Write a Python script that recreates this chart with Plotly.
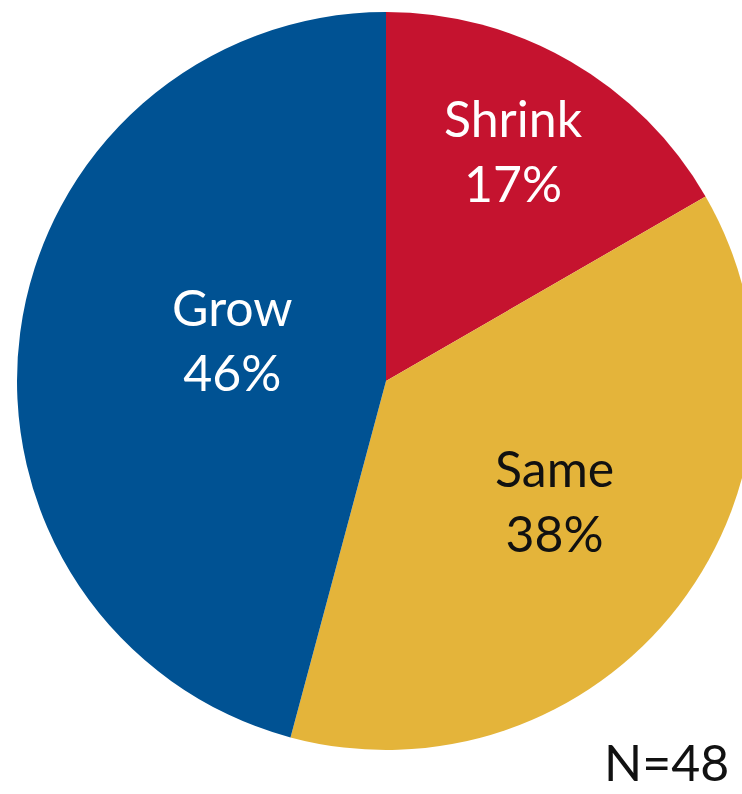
import math
import plotly.graph_objects as go

labels = ["Shrink", "Same", "Grow"]
counts = [8, 18, 22]
colors = ["#C5132F", "#E4B43A", "#005293"]
text_colors = ["#FFFFFF", "#111111", "#FFFFFF"]
n_text = "N=48"

# label placement (radius fraction, angular nudge in degrees)
label_r = [0.715, 0.56, 0.43]
label_nudge = [-1, -2, 7.5]

W, H = 755, 794
L, T, S = 17, 12, 738  # margin left, top, plot square size

fig = go.Figure(go.Pie(
    labels=labels,
    values=counts,
    sort=False,
    direction="clockwise",
    rotation=0,
    marker=dict(colors=colors, line=dict(width=0)),
    textinfo="none",
    hoverinfo="label+percent",
    showlegend=False,
))

total = sum(counts)
cum = 0
for lab, c, col, rf, nd in zip(labels, counts, text_colors, label_r, label_nudge):
    mid = (cum + c / 2) / total * 360 + nd
    cum += c
    dx = rf * 0.5 * math.sin(math.radians(mid))
    dy = rf * 0.5 * math.cos(math.radians(mid))
    fig.add_annotation(
        text=f"{lab}<br>{round(100 * c / total)}%",
        xref="paper", yref="paper",
        x=0.5 + dx, y=0.5 + dy,
        xanchor="center", yanchor="middle",
        showarrow=False,
        font=dict(family="Lato", size=50, color=col),
    )

fig.add_annotation(
    text=n_text, xref="paper", yref="paper",
    x=(731 - L) / S, xanchor="right",
    y=-(794 - (T + S)) / S, yanchor="bottom",
    showarrow=False,
    font=dict(family="Lato", size=50, color="#111111"),
)

fig.update_layout(
    width=W, height=H,
    margin=dict(l=L, r=W - L - S, t=T, b=H - T - S, pad=0),
    paper_bgcolor="white",
    plot_bgcolor="white",
)

fig.write_html(
    "out.html",
    post_script="document.documentElement.style.overflow='hidden';document.body.style.overflow='hidden';document.body.style.margin='0';",
)
